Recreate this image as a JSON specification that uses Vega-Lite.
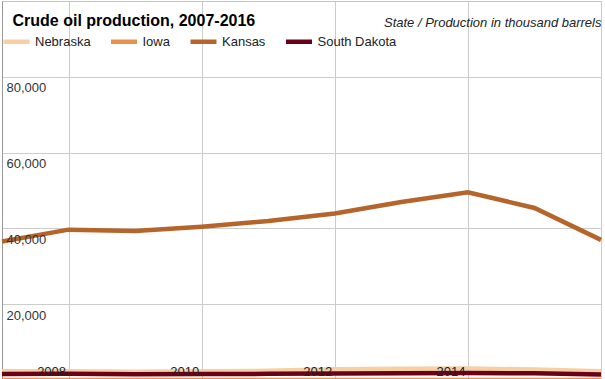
{
  "$schema": "https://vega.github.io/schema/vega-lite/v6.json",
  "width": 599,
  "height": 379,
  "autosize": {"type": "none"},
  "padding": {"left": 2, "top": 1, "right": 4, "bottom": 0},
  "background": "white",
  "config": {"font": "Liberation Sans", "view": {"stroke": "#c4c4c4"}},
  "data": {
    "values": [
      {"state": "Nebraska", "year": 2007, "value": 2335},
      {"state": "Nebraska", "year": 2008, "value": 2282},
      {"state": "Nebraska", "year": 2009, "value": 2205},
      {"state": "Nebraska", "year": 2010, "value": 2300},
      {"state": "Nebraska", "year": 2011, "value": 2429},
      {"state": "Nebraska", "year": 2012, "value": 2811},
      {"state": "Nebraska", "year": 2013, "value": 2976},
      {"state": "Nebraska", "year": 2014, "value": 3040},
      {"state": "Nebraska", "year": 2015, "value": 2758},
      {"state": "Nebraska", "year": 2016, "value": 2324},
      {"state": "Iowa", "year": 2007, "value": 0},
      {"state": "Iowa", "year": 2008, "value": 0},
      {"state": "Iowa", "year": 2009, "value": 0},
      {"state": "Iowa", "year": 2010, "value": 0},
      {"state": "Iowa", "year": 2011, "value": 0},
      {"state": "Iowa", "year": 2012, "value": 0},
      {"state": "Iowa", "year": 2013, "value": 0},
      {"state": "Iowa", "year": 2014, "value": 0},
      {"state": "Iowa", "year": 2015, "value": 0},
      {"state": "Iowa", "year": 2016, "value": 0},
      {"state": "Kansas", "year": 2007, "value": 36552},
      {"state": "Kansas", "year": 2008, "value": 39668},
      {"state": "Kansas", "year": 2009, "value": 39302},
      {"state": "Kansas", "year": 2010, "value": 40439},
      {"state": "Kansas", "year": 2011, "value": 41954},
      {"state": "Kansas", "year": 2012, "value": 43909},
      {"state": "Kansas", "year": 2013, "value": 46968},
      {"state": "Kansas", "year": 2014, "value": 49544},
      {"state": "Kansas", "year": 2015, "value": 45397},
      {"state": "Kansas", "year": 2016, "value": 36976},
      {"state": "South Dakota", "year": 2007, "value": 1613},
      {"state": "South Dakota", "year": 2008, "value": 1660},
      {"state": "South Dakota", "year": 2009, "value": 1550},
      {"state": "South Dakota", "year": 2010, "value": 1578},
      {"state": "South Dakota", "year": 2011, "value": 1617},
      {"state": "South Dakota", "year": 2012, "value": 1720},
      {"state": "South Dakota", "year": 2013, "value": 1803},
      {"state": "South Dakota", "year": 2014, "value": 1860},
      {"state": "South Dakota", "year": 2015, "value": 1750},
      {"state": "South Dakota", "year": 2016, "value": 1420}
    ]
  },
  "layer": [
    {
      "mark": {"type": "line", "strokeWidth": 4.5, "strokeCap": "butt"},
      "encoding": {
        "x": {
          "field": "year",
          "type": "quantitative",
          "scale": {"domain": [2007, 2016], "nice": false, "zero": false},
          "axis": {
            "orient": "top",
            "values": [2008, 2010, 2012, 2014, 2016],
            "labels": false,
            "domain": false,
            "ticks": false,
            "grid": true,
            "gridColor": "#cccccc",
            "title": "State / Production in thousand barrels",
            "titleAnchor": "end",
            "titleAlign": "right",
            "titleFontStyle": "italic",
            "titleFontWeight": "normal",
            "titleFontSize": 13,
            "titleColor": "#222222",
            "titleBaseline": "alphabetic",
            "titlePadding": -25
          }
        },
        "y": {
          "field": "value",
          "type": "quantitative",
          "scale": {"domain": [0, 100000], "nice": false},
          "axis": {
            "orient": "left",
            "values": [20000, 40000, 60000, 80000],
            "title": null,
            "labels": false,
            "domain": true,
            "domainColor": "#999999",
            "ticks": false,
            "grid": true,
            "gridColor": "#cccccc"
          }
        },
        "color": {
          "field": "state",
          "type": "nominal",
          "scale": {
            "domain": ["Nebraska", "Iowa", "Kansas", "South Dakota"],
            "range": ["#f7cfa4", "#e8914b", "#b5652b", "#6b0019"]
          },
          "legend": {
            "orient": "none",
            "legendX": -1,
            "legendY": 25,
            "direction": "horizontal",
            "title": null,
            "symbolType": "stroke",
            "symbolStrokeWidth": 4.5,
            "symbolSize": 676,
            "labelFontSize": 13,
            "labelColor": "#222222",
            "labelOffset": 3,
            "columnPadding": 10.5
          }
        }
      }
    },
    {
      "mark": {"type": "rule", "opacity": 0},
      "encoding": {
        "x": {
          "aggregate": "min",
          "field": "year",
          "type": "quantitative",
          "axis": {
            "orient": "top",
            "title": "Crude oil production, 2007-2016",
            "titleX": 10,
            "titleAnchor": "start",
            "titleAlign": "left",
            "titleFontSize": 16,
            "titleFontWeight": "bold",
            "titleColor": "#000000",
            "titleBaseline": "alphabetic",
            "titlePadding": -24,
            "labels": false,
            "ticks": false,
            "domain": false,
            "grid": false
          }
        }
      }
    },
    {
      "mark": {"type": "point", "opacity": 0},
      "encoding": {
        "x": {
          "field": "year",
          "type": "quantitative",
          "axis": {
            "orient": "bottom",
            "zindex": 1,
            "values": [2008, 2010, 2012, 2014],
            "format": "d",
            "title": null,
            "domain": false,
            "ticks": false,
            "tickSize": 0,
            "grid": false,
            "labelAlign": "right",
            "labelBaseline": "alphabetic",
            "labelPadding": -5,
            "labelOffset": -3,
            "labelFontSize": 13,
            "labelColor": "#222222",
            "labelFlush": false,
            "labelOverlap": false
          }
        },
        "y": {
          "field": "value",
          "type": "quantitative",
          "axis": {
            "orient": "left",
            "zindex": 1,
            "values": [20000, 40000, 60000, 80000],
            "format": ",d",
            "title": null,
            "domain": false,
            "ticks": false,
            "tickSize": 0,
            "grid": false,
            "labelAlign": "left",
            "labelBaseline": "top",
            "labelPadding": -4,
            "labelOffset": 5,
            "labelFontSize": 13,
            "labelColor": "#333333",
            "labelFlush": false
          }
        }
      }
    }
  ],
  "resolve": {"axis": {"x": "independent", "y": "independent"}}
}
